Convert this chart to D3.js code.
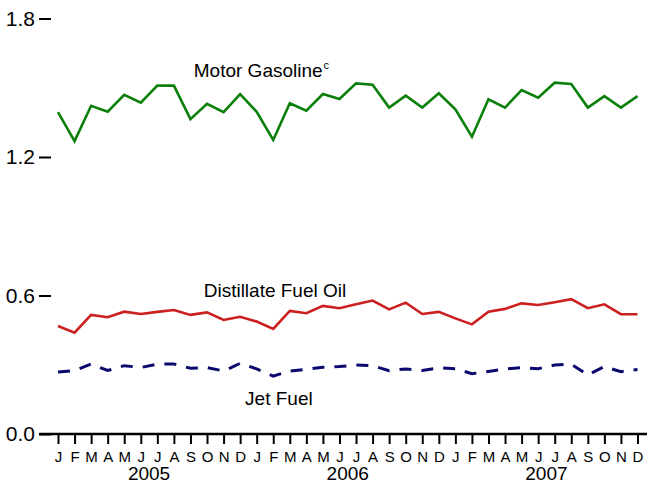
<!DOCTYPE html>
<html>
  <head>
    <script src="https://cdn.jsdelivr.net/npm/d3@7/dist/d3.min.js"></script>
    <style>
      body { margin: 0; background: #fff; }
      text { font-family: "Liberation Sans", Arial, sans-serif; fill: #000; }
    </style>
  </head>
  <body>
    <svg width="665" height="483"></svg>
    <script>

      // monthly values, Jan 2005 .. Dec 2007
      const years = [2005, 2006, 2007];
      const monthLetters = ["J","F","M","A","M","J","J","A","S","O","N","D"];

      const gasoline = [
        1.394, 1.269, 1.422, 1.396, 1.469, 1.435, 1.509, 1.509, 1.364, 1.430, 1.394, 1.472,
        1.396, 1.274, 1.433, 1.401, 1.473, 1.451, 1.519, 1.513, 1.414, 1.466, 1.414, 1.476,
        1.407, 1.288, 1.450, 1.414, 1.490, 1.457, 1.522, 1.516, 1.414, 1.464, 1.414, 1.464
      ];
      const distillate = [
        0.468, 0.439, 0.516, 0.506, 0.530, 0.520, 0.529, 0.537, 0.516, 0.527, 0.494, 0.508,
        0.487, 0.455, 0.533, 0.523, 0.555, 0.545, 0.562, 0.578, 0.540, 0.569, 0.520, 0.529,
        0.501, 0.475, 0.530, 0.542, 0.566, 0.559, 0.571, 0.584, 0.545, 0.562, 0.519, 0.519
      ];
      const jetFuel = [
        0.269, 0.275, 0.303, 0.275, 0.296, 0.288, 0.303, 0.303, 0.285, 0.288, 0.273, 0.306,
        0.282, 0.251, 0.273, 0.280, 0.289, 0.292, 0.299, 0.296, 0.274, 0.282, 0.275, 0.287,
        0.283, 0.261, 0.271, 0.282, 0.287, 0.283, 0.299, 0.302, 0.256, 0.292, 0.270, 0.279
      ];
      const yTicks = [0, 0.6, 1.2, 1.8];

      const series = [
        { name: "Motor Gasoline", sup: "c", values: gasoline, color: "#0a800a", dash: null, lx: 8.2, ly: 1.545 },
        { name: "Distillate Fuel Oil", sup: "", values: distillate, color: "#cc1f1f", dash: null, lx: 8.8, ly: 0.593 },
        { name: "Jet Fuel", sup: "", values: jetFuel, color: "#0a0a6e", dash: "12,10", lx: 11.3, ly: 0.125 }
      ];

      const svg = d3.select("svg");
      const nMonths = gasoline.length;

      const x = d3.scaleLinear().domain([0, nMonths - 1]).range([58, 637.5]);
      const y = d3.scaleLinear().domain([0, 1.8]).range([434, 18.5]);

      // y axis (ticks only, no spine)
      const yAxis = svg.append("g")
        .attr("transform", "translate(51,0)")
        .call(d3.axisLeft(y).tickValues(yTicks).tickSize(12).tickPadding(4).tickFormat(d3.format(".1f")));
      yAxis.select(".domain").remove();
      yAxis.selectAll("line").attr("stroke", "#000").attr("stroke-width", 2);
      yAxis.selectAll("text").attr("font-size", 21).attr("font-family", "Liberation Sans, Arial, sans-serif");

      // x axis
      svg.append("line")
        .attr("x1", 39).attr("x2", 647)
        .attr("y1", y(0)).attr("y2", y(0))
        .attr("stroke", "#000").attr("stroke-width", 2.5);

      const xAxis = svg.append("g")
        .attr("transform", `translate(0,${y(0)})`)
        .call(d3.axisBottom(x).tickValues(d3.range(nMonths)).tickSize(10).tickPadding(7)
          .tickFormat(i => monthLetters[i % 12]));
      xAxis.select(".domain").remove();
      xAxis.selectAll("line").attr("stroke", "#000").attr("stroke-width", 2);
      xAxis.selectAll("text").attr("font-size", 15).attr("font-family", "Liberation Sans, Arial, sans-serif");

      svg.append("g").selectAll("text")
        .data(years)
        .join("text")
          .attr("x", (d, i) => x(i * 12 + 5.5))
          .attr("y", 480)
          .attr("text-anchor", "middle")
          .attr("font-size", 19)
          .text(d => d);

      // lines
      const line = d3.line()
        .x((d, i) => x(i))
        .y(d => y(d));

      svg.append("g").selectAll("path")
        .data(series)
        .join("path")
          .attr("d", d => line(d.values))
          .attr("fill", "none")
          .attr("stroke", d => d.color)
          .attr("stroke-width", d => d.dash ? 3 : 2.6)
          .attr("stroke-dasharray", d => d.dash)
          .attr("stroke-linejoin", "miter");

      // series labels
      const labels = svg.append("g").selectAll("text")
        .data(series)
        .join("text")
          .attr("x", d => x(d.lx))
          .attr("y", d => y(d.ly))
          .attr("font-size", 19);
      labels.append("tspan").text(d => d.name);
      labels.append("tspan")
        .attr("font-size", 11)
        .attr("dx", 1)
        .attr("dy", -8)
        .text(d => d.sup);

    </script>
  </body>
</html>
